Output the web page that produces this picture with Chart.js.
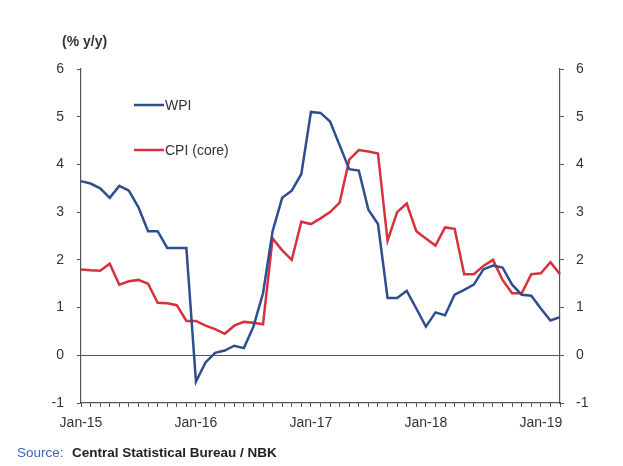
<!DOCTYPE html>
<html>
<head>
<meta charset="utf-8">
<script src="https://cdn.jsdelivr.net/npm/chart.js@4/dist/chart.umd.min.js"></script>
<style>
  html, body { margin: 0; padding: 0; background: #fff; }
  #wrap { width: 623px; height: 466px; position: relative; }
</style>
</head>
<body>
<div id="wrap"><canvas id="chart"></canvas></div>
<script>
// WPI vs core CPI, monthly % y/y, Jan-15 .. Mar-19.
const MONTHS = [
  'Jan-15','Feb-15','Mar-15','Apr-15','May-15','Jun-15','Jul-15','Aug-15','Sep-15','Oct-15','Nov-15','Dec-15',
  'Jan-16','Feb-16','Mar-16','Apr-16','May-16','Jun-16','Jul-16','Aug-16','Sep-16','Oct-16','Nov-16','Dec-16',
  'Jan-17','Feb-17','Mar-17','Apr-17','May-17','Jun-17','Jul-17','Aug-17','Sep-17','Oct-17','Nov-17','Dec-17',
  'Jan-18','Feb-18','Mar-18','Apr-18','May-18','Jun-18','Jul-18','Aug-18','Sep-18','Oct-18','Nov-18','Dec-18',
  'Jan-19','Feb-19','Mar-19'
];

const WPI = [
  3.65, 3.6, 3.5, 3.3, 3.55, 3.45, 3.1, 2.6, 2.6, 2.25, 2.25, 2.25,
  -0.55, -0.15, 0.05, 0.1, 0.2, 0.15, 0.6, 1.3, 2.6, 3.3, 3.45, 3.8,
  5.1, 5.08, 4.9, 4.4, 3.9, 3.87, 3.05, 2.75, 1.2, 1.2, 1.35, 0.98,
  0.6, 0.9, 0.84, 1.27, 1.37, 1.48, 1.8, 1.88, 1.84, 1.48, 1.27, 1.25,
  0.98, 0.73, 0.8
];

const CPI_CORE = [
  1.8, 1.78, 1.77, 1.92, 1.48, 1.55, 1.58, 1.5, 1.1, 1.09, 1.05, 0.72,
  0.72, 0.62, 0.55, 0.45, 0.62, 0.7, 0.68, 0.65, 2.45, 2.2, 2.0, 2.8,
  2.75, 2.87, 3.0, 3.2, 4.1, 4.3, 4.27, 4.23, 2.4, 3.0, 3.18, 2.6,
  2.45, 2.3, 2.68, 2.65, 1.7, 1.7, 1.87, 2.0, 1.58, 1.3, 1.3, 1.7,
  1.72, 1.95, 1.7
];

const Y_MIN = -1;
const Y_MAX = 6;

const BLUE = '#2e4e90';
const RED = '#d6313c';
const AXIS = '#555';
const TEXT = '#333';
const FONT = '"Liberation Sans", Arial, sans-serif';

// Legend sits inside the plot, top-left, like the original.
const insideLegend = {
  id: 'insideLegend',
  afterDraw(chart) {
    const c = chart.ctx;
    const rows = [105, 150];
    c.save();
    chart.data.datasets.forEach((ds, i) => {
      const y = rows[i];
      c.strokeStyle = ds.borderColor;
      c.lineWidth = 2.5;
      c.beginPath();
      c.moveTo(134, y);
      c.lineTo(164, y);
      c.stroke();
      c.fillStyle = TEXT;
      c.font = '14px ' + FONT;
      c.textBaseline = 'middle';
      c.fillText(ds.label, 165, y + 1);
    });
    c.restore();
  }
};

// Unit label above the left axis and the source line beneath.
const notes = {
  id: 'notes',
  afterDraw(chart) {
    const c = chart.ctx;
    c.save();
    c.textBaseline = 'middle';
    c.fillStyle = TEXT;
    c.font = 'bold 14px ' + FONT;
    c.fillText('(% y/y)', 62, 42);
    c.font = '13.5px ' + FONT;
    c.fillStyle = '#3d63c4';
    c.fillText('Source:', 17, 453);
    c.fillStyle = '#222';
    c.font = 'bold 13.5px ' + FONT;
    c.fillText('Central Statistical Bureau / NBK', 72, 453);
    c.restore();
  }
};

const yTicks = (pad) => ({
  stepSize: 1,
  color: TEXT,
  padding: pad,
  font: { family: FONT, size: 14 }
});

new Chart(document.getElementById('chart'), {
  type: 'line',
  data: {
    labels: MONTHS,
    datasets: [
      { label: 'WPI', data: WPI, borderColor: BLUE, borderWidth: 2.5,
        pointRadius: 0, tension: 0, yAxisID: 'y' },
      { label: 'CPI (core)', data: CPI_CORE, borderColor: RED, borderWidth: 2.5,
        pointRadius: 0, tension: 0, yAxisID: 'y' }
    ]
  },
  options: {
    responsive: true,
    maintainAspectRatio: false,
    animation: false,
    layout: { padding: { top: 69, bottom: 33, left: 0, right: 0 } },
    plugins: { legend: { display: false }, tooltip: { enabled: false } },
    scales: {
      x: {
        type: 'category',
        offset: false,
        afterFit: (s) => { s.height = 30; },
        border: { display: true, color: AXIS, width: 1.2 },
        grid: { display: true, drawOnChartArea: false, color: AXIS, tickLength: 4 },
        ticks: {
          autoSkip: false,
          maxRotation: 0,
          color: TEXT,
          padding: 8,
          font: { family: FONT, size: 14 },
          callback(v, i) {
            const m = MONTHS[i];
            return m.startsWith('Jan') ? m : '';
          }
        }
      },
      y: {
        position: 'left',
        min: Y_MIN,
        max: Y_MAX,
        afterFit: (s) => { s.width = 81; },
        border: { display: true, color: AXIS, width: 1.2 },
        grid: {
          drawOnChartArea: true,
          color: (ctx) => (ctx.tick && ctx.tick.value === 0 ? AXIS : 'rgba(0,0,0,0)'),
          tickColor: AXIS,
          tickLength: 4
        },
        ticks: yTicks(13)
      },
      y2: {
        position: 'right',
        min: Y_MIN,
        max: Y_MAX,
        afterFit: (s) => { s.width = 63; },
        border: { display: true, color: AXIS, width: 1.2 },
        grid: { drawOnChartArea: false, color: AXIS, tickLength: 4 },
        ticks: yTicks(12)
      }
    }
  },
  plugins: [insideLegend, notes]
});
</script>
</body>
</html>
